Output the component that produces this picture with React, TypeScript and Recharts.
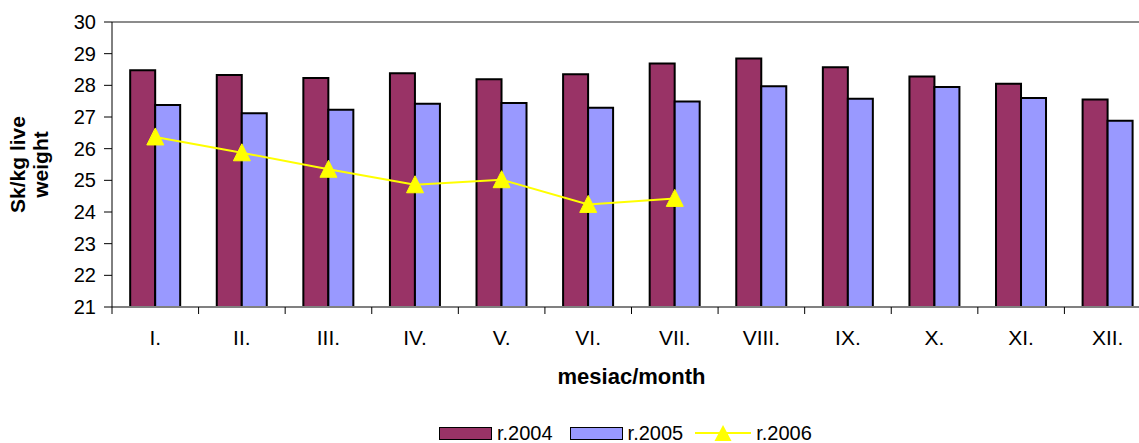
import React from 'react';
import { ComposedChart, Bar, Line, XAxis, YAxis, Legend, ReferenceLine } from 'recharts';

const months = ['I.', 'II.', 'III.', 'IV.', 'V.', 'VI.', 'VII.', 'VIII.', 'IX.', 'X.', 'XI.', 'XII.'];
const r2004 = [28.48, 28.33, 28.23, 28.38, 28.19, 28.35, 28.69, 28.85, 28.57, 28.28, 28.05, 27.55];
const r2005 = [27.38, 27.12, 27.23, 27.42, 27.44, 27.29, 27.49, 27.97, 27.58, 27.95, 27.6, 26.88];
const r2006: (number | null)[] = [26.37, 25.87, 25.35, 24.86, 25.02, 24.24, 24.43, null, null, null, null, null];
const yTicks = [21, 22, 23, 24, 25, 26, 27, 28, 29, 30];

const data = months.map((m, i) => ({ month: m, r2004: r2004[i], r2005: r2005[i], r2006: r2006[i] }));

const FONT = '"Liberation Sans", Arial, sans-serif';
const C2004 = '#993366';
const C2005 = '#9999FF';
const C2006 = '#FFFF00';

const XTick = (props: any) => {
  const { x, y, payload } = props;
  const half = payload && typeof payload.offset === 'number' ? payload.offset : 0;
  return (
    <g>
      <line x1={x - half} x2={x - half} y1={y} y2={y + 7} stroke="#000" strokeWidth={1} />
      <text x={x} y={y + 38} textAnchor="middle" fontSize={21} fontFamily={FONT} fill="#000">
        {payload.value}
      </text>
    </g>
  );
};

const Triangle = (props: any) => {
  const { cx, cy } = props;
  if (cx == null || cy == null || props.value == null) return <g />;
  return <path d={`M${cx},${cy - 9} L${cx + 8.5},${cy + 8} L${cx - 8.5},${cy + 8} Z`} fill={C2006} stroke={C2006} />;
};

const YTitle = (props: any) => {
  const vb = props.viewBox || { x: 0, y: 22, width: 112, height: 285 };
  const cy = vb.y + vb.height / 2;
  return (
    <text transform={`translate(0, ${cy}) rotate(-90)`} textAnchor="middle" fontSize={21} fontWeight="bold" fontFamily={FONT} fill="#000">
      <tspan x={0} y={25}>Sk/kg live</tspan>
      <tspan x={0} y={48}>weight</tspan>
    </text>
  );
};

const LegendContent = () => {
  const txt: React.CSSProperties = { fontSize: 20, fontFamily: FONT, color: '#000', lineHeight: '20px', marginLeft: 5 };
  return (
    <div style={{ position: 'relative', height: 20, width: '100%' }}>
      <div style={{ position: 'absolute', left: 439, top: 0, display: 'flex', alignItems: 'center', height: 20, whiteSpace: 'nowrap' }}>
        <div style={{ width: 51, height: 11, background: C2004, border: '1.5px solid #000' }} />
        <span style={txt}>r.2004</span>
        <div style={{ width: 51, height: 11, background: C2005, border: '1.5px solid #000', marginLeft: 17 }} />
        <span style={txt}>r.2005</span>
        <svg width={56} height={18} style={{ marginLeft: 12 }}>
          <line x1={0} x2={56} y1={9} y2={9} stroke={C2006} strokeWidth={2} />
          <path d="M28,1 L36.5,17 L19.5,17 Z" fill={C2006} />
        </svg>
        <span style={txt}>r.2006</span>
      </div>
    </div>
  );
};

export default function App() {
  return (
    <div style={{ position: 'absolute', left: 0, top: 0, width: 1139, height: 443, overflow: 'hidden', background: '#fff' }}>
      <ComposedChart
        width={1160}
        height={443}
        data={data}
        margin={{ top: 22, right: 9, left: 0, bottom: 0 }}
        barCategoryGap="21%"
        barGap={0}
      >
        <XAxis
          dataKey="month"
          height={116}
          axisLine={{ stroke: '#808080', strokeWidth: 2 }}
          tickLine={false}
          tickSize={0}
          tickMargin={0}
          tick={<XTick />}
          interval={0}
          label={{ value: 'mesiac/month', position: 'insideTop', offset: 61, fontSize: 22, fontWeight: 'bold', fontFamily: FONT, fill: '#000' }}
        />
        <YAxis
          width={112}
          domain={[21, 30]}
          ticks={yTicks}
          interval={0}
          allowDataOverflow
          axisLine={{ stroke: '#000', strokeWidth: 1 }}
          tickLine={{ stroke: '#000' }}
          tickSize={8}
          tickMargin={8}
          tick={{ fontSize: 20, fontFamily: FONT, fill: '#000' }}
          label={<YTitle />}
        />
        <ReferenceLine y={30} stroke="#8c8c8c" strokeWidth={2} />
        <Bar dataKey="r2004" name="r.2004" fill={C2004} stroke="#000" strokeWidth={2} isAnimationActive={false} />
        <Bar dataKey="r2005" name="r.2005" fill={C2005} stroke="#000" strokeWidth={2} isAnimationActive={false} />
        <Line
          dataKey="r2006"
          name="r.2006"
          stroke={C2006}
          strokeWidth={2}
          dot={<Triangle />}
          activeDot={false}
          isAnimationActive={false}
        />
        <Legend verticalAlign="bottom" height={20} content={<LegendContent />} />
      </ComposedChart>
    </div>
  );
}
